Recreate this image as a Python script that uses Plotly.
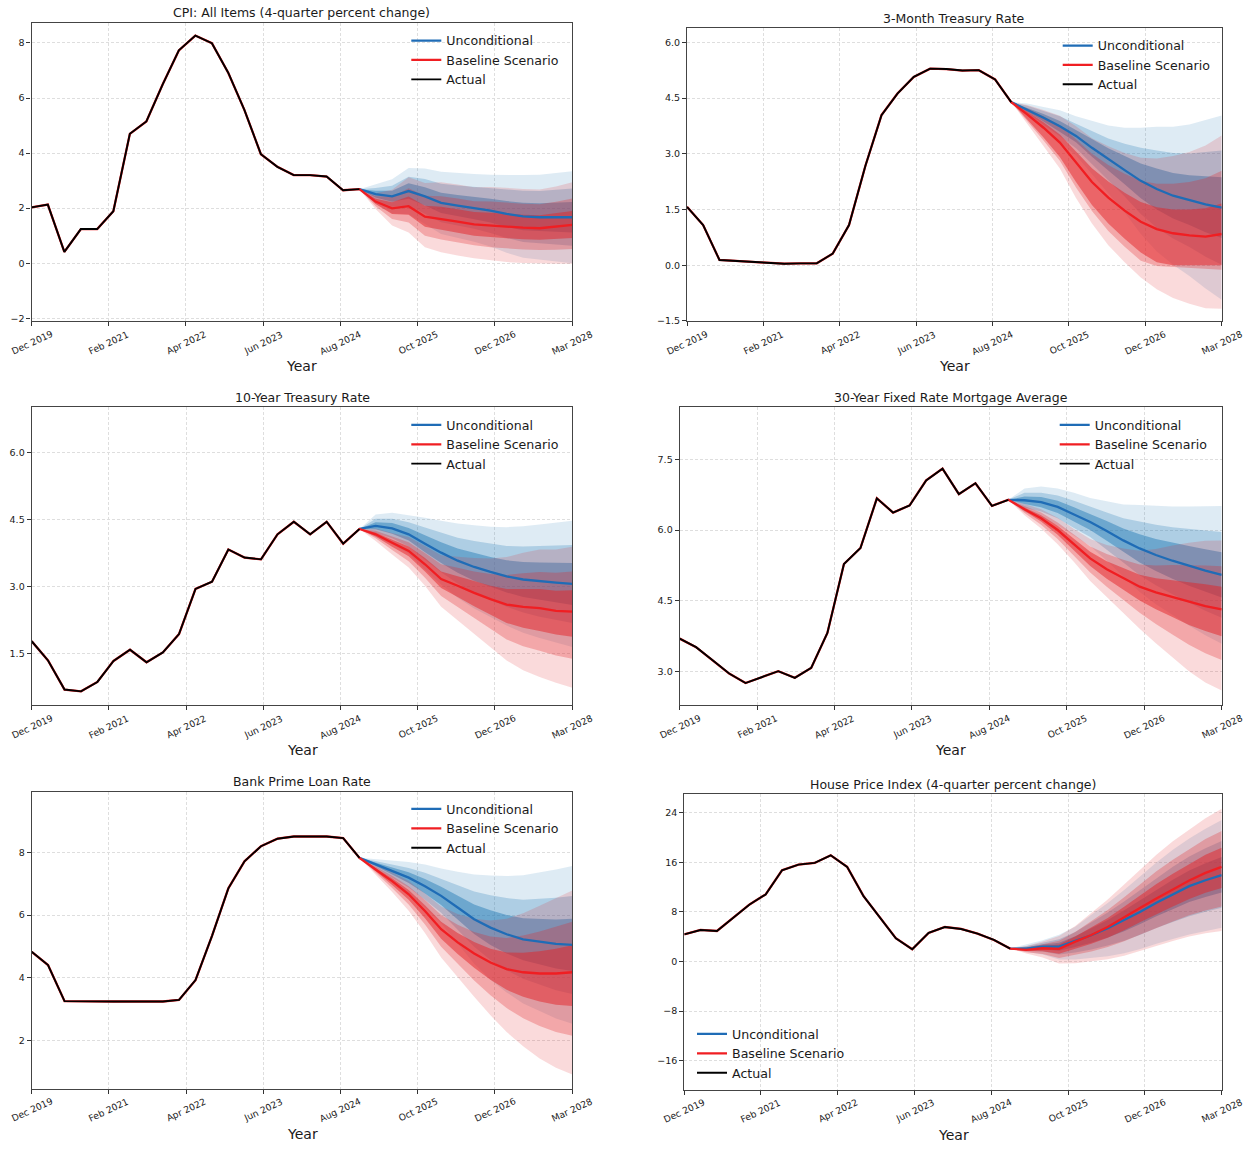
import plotly.graph_objects as go
import pandas as pd

# ---------------- data ----------------
quarters = pd.date_range("2019-12-01", periods=34, freq="3MS")
hist_dates = list(quarters[:21])
fc_dates = list(quarters[20:])

tick_dates = ["2019-12-01", "2021-02-03", "2022-04-09", "2023-06-14",
              "2024-08-17", "2025-10-22", "2026-12-26", "2028-03-01"]
tick_labels = ["Dec 2019", "Feb 2021", "Apr 2022", "Jun 2023",
               "Aug 2024", "Oct 2025", "Dec 2026", "Mar 2028"]

titles = ["CPI: All Items (4-quarter percent change)", "3-Month Treasury Rate",
          "10-Year Treasury Rate", "30-Year Fixed Rate Mortgage Average",
          "Bank Prime Loan Rate", "House Price Index (4-quarter percent change)"]
series_names = ["Unconditional", "Baseline Scenario", "Actual"]

# CPI
cpi_actual = [2.03, 2.13, 0.41, 1.24, 1.24, 1.89, 4.70, 5.15, 6.50, 7.73, 8.27, 7.99, 6.92, 5.57, 3.96, 3.50, 3.20, 3.20, 3.15, 2.65, 2.69]
cpi_unc = [2.69, 2.51, 2.43, 2.62, 2.43, 2.19, 2.09, 2.01, 1.91, 1.79, 1.70, 1.67, 1.67, 1.67]
cpi_unc_out_hi = [2.69, 2.86, 3.05, 3.46, 3.44, 3.32, 3.27, 3.24, 3.21, 3.20, 3.20, 3.21, 3.27, 3.34]
cpi_unc_out_lo = [2.69, 2.16, 1.81, 1.78, 1.42, 1.06, 0.91, 0.78, 0.61, 0.38, 0.20, 0.13, 0.07, 0.00]
cpi_unc_mid_hi = [2.69, 2.73, 2.81, 3.14, 3.06, 2.89, 2.82, 2.77, 2.72, 2.66, 2.63, 2.62, 2.66, 2.71]
cpi_unc_mid_lo = [2.69, 2.29, 2.05, 2.10, 1.80, 1.49, 1.36, 1.25, 1.10, 0.92, 0.77, 0.72, 0.68, 0.63]
cpi_unc_in_hi = [2.69, 2.63, 2.63, 2.90, 2.76, 2.56, 2.48, 2.42, 2.34, 2.26, 2.20, 2.18, 2.20, 2.22]
cpi_unc_in_lo = [2.69, 2.39, 2.23, 2.34, 2.10, 1.82, 1.70, 1.60, 1.48, 1.32, 1.20, 1.16, 1.14, 1.12]
cpi_base = [2.69, 2.24, 1.99, 2.07, 1.69, 1.61, 1.51, 1.41, 1.37, 1.32, 1.29, 1.27, 1.32, 1.39]
cpi_base_out_hi = [2.69, 2.54, 2.67, 3.12, 2.91, 2.94, 2.86, 2.76, 2.77, 2.73, 2.70, 2.68, 2.79, 2.94]
cpi_base_out_lo = [2.69, 1.97, 1.37, 1.12, 0.58, 0.40, 0.28, 0.18, 0.10, 0.04, 0.01, -0.01, -0.02, -0.02]
cpi_base_mid_hi = [2.69, 2.43, 2.41, 2.72, 2.45, 2.43, 2.35, 2.25, 2.24, 2.19, 2.16, 2.14, 2.23, 2.35]
cpi_base_mid_lo = [2.69, 2.07, 1.61, 1.48, 1.00, 0.86, 0.75, 0.65, 0.58, 0.53, 0.50, 0.48, 0.49, 0.52]
cpi_base_in_hi = [2.69, 2.34, 2.21, 2.42, 2.09, 2.05, 1.96, 1.86, 1.83, 1.79, 1.76, 1.74, 1.81, 1.90]
cpi_base_in_lo = [2.69, 2.15, 1.79, 1.76, 1.32, 1.21, 1.10, 1.00, 0.95, 0.90, 0.87, 0.85, 0.88, 0.92]

# 3-Month Treasury
tb3_actual = [1.57, 1.08, 0.14, 0.11, 0.08, 0.05, 0.04, 0.05, 0.05, 0.31, 1.08, 2.67, 4.04, 4.62, 5.07, 5.29, 5.28, 5.24, 5.25, 5.00, 4.39]
tb3_unc = [4.39, 4.19, 3.97, 3.74, 3.48, 3.16, 2.85, 2.56, 2.27, 2.05, 1.87, 1.75, 1.64, 1.55]
tb3_unc_out_hi = [4.39, 4.35, 4.26, 4.17, 4.01, 3.88, 3.76, 3.70, 3.70, 3.73, 3.73, 3.79, 3.91, 4.03]
tb3_unc_out_lo = [4.39, 4.03, 3.68, 3.31, 2.95, 2.44, 1.94, 1.42, 0.84, 0.37, 0.01, -0.29, -0.63, -0.93]
tb3_unc_mid_hi = [4.39, 4.29, 4.15, 4.01, 3.81, 3.61, 3.41, 3.27, 3.16, 3.09, 3.02, 3.01, 3.05, 3.09]
tb3_unc_mid_lo = [4.39, 4.09, 3.79, 3.47, 3.15, 2.71, 2.29, 1.85, 1.38, 1.01, 0.72, 0.49, 0.23, 0.01]
tb3_unc_in_hi = [4.39, 4.24, 4.07, 3.88, 3.65, 3.40, 3.15, 2.94, 2.74, 2.60, 2.48, 2.42, 2.39, 2.37]
tb3_unc_in_lo = [4.39, 4.14, 3.87, 3.60, 3.31, 2.92, 2.55, 2.18, 1.80, 1.50, 1.26, 1.08, 0.89, 0.73]
tb3_base = [4.39, 4.06, 3.70, 3.30, 2.76, 2.24, 1.82, 1.47, 1.17, 0.97, 0.86, 0.80, 0.77, 0.84]
tb3_base_out_hi = [4.39, 4.31, 4.18, 4.02, 3.74, 3.42, 3.20, 3.02, 2.89, 2.87, 2.94, 3.05, 3.22, 3.49]
tb3_base_out_lo = [4.39, 3.81, 3.22, 2.60, 1.81, 1.12, 0.54, 0.08, -0.33, -0.65, -0.88, -1.04, -1.16, -1.17]
tb3_base_mid_hi = [4.39, 4.22, 4.01, 3.76, 3.39, 3.00, 2.70, 2.46, 2.27, 2.19, 2.19, 2.24, 2.34, 2.54]
tb3_base_mid_lo = [4.39, 3.88, 3.36, 2.81, 2.09, 1.46, 0.92, 0.50, 0.12, -0.02, -0.04, -0.06, -0.10, -0.12]
tb3_base_in_hi = [4.39, 4.14, 3.85, 3.52, 3.06, 2.61, 2.25, 1.95, 1.70, 1.56, 1.50, 1.50, 1.53, 1.66]
tb3_base_in_lo = [4.39, 3.92, 3.44, 2.91, 2.24, 1.62, 1.12, 0.71, 0.34, 0.08, 0.00, 0.00, 0.00, 0.00]

# 10-Year Treasury
tn10_actual = [1.78, 1.35, 0.70, 0.66, 0.87, 1.34, 1.59, 1.31, 1.53, 1.94, 2.95, 3.11, 3.83, 3.65, 3.61, 4.17, 4.45, 4.17, 4.45, 3.96, 4.29]
tn10_unc = [4.29, 4.36, 4.30, 4.17, 3.96, 3.76, 3.58, 3.44, 3.33, 3.23, 3.16, 3.12, 3.09, 3.06]
tn10_unc_out_hi = [4.29, 4.61, 4.65, 4.60, 4.54, 4.47, 4.41, 4.37, 4.34, 4.33, 4.35, 4.39, 4.43, 4.47]
tn10_unc_out_lo = [4.29, 4.11, 3.95, 3.74, 3.38, 3.05, 2.75, 2.51, 2.32, 2.13, 1.97, 1.85, 1.75, 1.65]
tn10_unc_mid_hi = [4.29, 4.52, 4.52, 4.44, 4.32, 4.20, 4.09, 4.02, 3.96, 3.91, 3.90, 3.91, 3.92, 3.93]
tn10_unc_mid_lo = [4.29, 4.20, 4.08, 3.90, 3.60, 3.32, 3.07, 2.86, 2.70, 2.55, 2.42, 2.33, 2.26, 2.19]
tn10_unc_in_hi = [4.29, 4.44, 4.42, 4.31, 4.15, 3.99, 3.85, 3.75, 3.66, 3.59, 3.55, 3.54, 3.53, 3.53]
tn10_unc_in_lo = [4.29, 4.28, 4.18, 4.03, 3.77, 3.53, 3.31, 3.13, 3.00, 2.87, 2.77, 2.70, 2.65, 2.59]
tn10_base = [4.29, 4.17, 3.98, 3.80, 3.50, 3.17, 3.02, 2.86, 2.72, 2.60, 2.55, 2.52, 2.46, 2.44]
tn10_base_out_hi = [4.29, 4.30, 4.20, 4.11, 3.91, 3.70, 3.67, 3.64, 3.63, 3.66, 3.76, 3.83, 3.83, 3.89]
tn10_base_out_lo = [4.29, 4.02, 3.72, 3.43, 3.02, 2.55, 2.26, 1.94, 1.65, 1.35, 1.13, 0.98, 0.85, 0.74]
tn10_base_mid_hi = [4.29, 4.25, 4.12, 3.99, 3.75, 3.50, 3.42, 3.34, 3.28, 3.26, 3.30, 3.33, 3.31, 3.34]
tn10_base_mid_lo = [4.29, 4.08, 3.82, 3.57, 3.20, 2.79, 2.55, 2.29, 2.06, 1.82, 1.67, 1.57, 1.46, 1.39]
tn10_base_in_hi = [4.29, 4.21, 4.05, 3.90, 3.64, 3.34, 3.23, 3.12, 3.02, 2.95, 2.95, 2.95, 2.91, 2.92]
tn10_base_in_lo = [4.29, 4.12, 3.89, 3.68, 3.34, 2.97, 2.77, 2.56, 2.37, 2.19, 2.08, 2.01, 1.93, 1.88]

# 30-Year Mortgage
mort_actual = [3.70, 3.52, 3.24, 2.96, 2.76, 2.89, 3.01, 2.87, 3.08, 3.82, 5.28, 5.62, 6.67, 6.37, 6.52, 7.05, 7.30, 6.76, 6.99, 6.51, 6.64]
mort_unc = [6.64, 6.63, 6.59, 6.49, 6.33, 6.17, 5.98, 5.78, 5.61, 5.47, 5.35, 5.24, 5.14, 5.05]
mort_unc_out_hi = [6.64, 6.88, 6.92, 6.88, 6.79, 6.68, 6.61, 6.54, 6.53, 6.51, 6.50, 6.50, 6.51, 6.51]
mort_unc_out_lo = [6.64, 6.38, 6.26, 6.10, 5.87, 5.66, 5.35, 5.02, 4.69, 4.43, 4.20, 3.98, 3.77, 3.59]
mort_unc_mid_hi = [6.64, 6.79, 6.79, 6.73, 6.62, 6.49, 6.37, 6.25, 6.18, 6.11, 6.06, 6.02, 5.99, 5.96]
mort_unc_mid_lo = [6.64, 6.47, 6.39, 6.25, 6.04, 5.85, 5.59, 5.31, 5.04, 4.83, 4.64, 4.46, 4.29, 4.14]
mort_unc_in_hi = [6.64, 6.71, 6.70, 6.62, 6.48, 6.34, 6.19, 6.03, 5.91, 5.81, 5.73, 5.66, 5.59, 5.53]
mort_unc_in_lo = [6.64, 6.55, 6.48, 6.36, 6.18, 6.00, 5.77, 5.53, 5.31, 5.13, 4.97, 4.82, 4.69, 4.57]
mort_base = [6.64, 6.44, 6.25, 6.00, 5.70, 5.40, 5.17, 4.98, 4.80, 4.68, 4.58, 4.48, 4.39, 4.32]
mort_base_out_hi = [6.64, 6.55, 6.44, 6.26, 6.02, 5.81, 5.68, 5.61, 5.56, 5.60, 5.67, 5.73, 5.77, 5.78]
mort_base_out_lo = [6.64, 6.31, 6.03, 5.70, 5.32, 4.92, 4.57, 4.24, 3.91, 3.60, 3.30, 3.01, 2.77, 2.60]
mort_base_mid_hi = [6.64, 6.51, 6.37, 6.16, 5.90, 5.65, 5.49, 5.37, 5.27, 5.25, 5.26, 5.26, 5.25, 5.23]
mort_base_mid_lo = [6.64, 6.36, 6.11, 5.81, 5.46, 5.10, 4.80, 4.52, 4.25, 4.01, 3.79, 3.57, 3.39, 3.25]
mort_base_in_hi = [6.64, 6.48, 6.31, 6.09, 5.81, 5.54, 5.34, 5.19, 5.05, 4.98, 4.94, 4.89, 4.85, 4.80]
mort_base_in_lo = [6.64, 6.40, 6.18, 5.90, 5.57, 5.24, 4.97, 4.74, 4.51, 4.32, 4.16, 3.99, 3.86, 3.75]

# Bank Prime Loan Rate
prime_actual = [4.83, 4.41, 3.26, 3.25, 3.25, 3.25, 3.25, 3.25, 3.25, 3.30, 3.93, 5.34, 6.85, 7.71, 8.19, 8.43, 8.50, 8.50, 8.50, 8.45, 7.82]
prime_unc = [7.82, 7.61, 7.40, 7.19, 6.92, 6.61, 6.24, 5.87, 5.60, 5.39, 5.23, 5.15, 5.08, 5.05]
prime_unc_out_hi = [7.82, 7.77, 7.74, 7.69, 7.61, 7.48, 7.38, 7.29, 7.26, 7.24, 7.27, 7.35, 7.45, 7.56]
prime_unc_out_lo = [7.82, 7.45, 7.06, 6.69, 6.23, 5.74, 5.10, 4.45, 3.94, 3.54, 3.19, 2.95, 2.71, 2.54]
prime_unc_mid_hi = [7.82, 7.71, 7.61, 7.50, 7.35, 7.15, 6.95, 6.75, 6.63, 6.54, 6.49, 6.51, 6.55, 6.61]
prime_unc_mid_lo = [7.82, 7.51, 7.19, 6.88, 6.49, 6.07, 5.53, 4.99, 4.57, 4.24, 3.97, 3.79, 3.61, 3.49]
prime_unc_in_hi = [7.82, 7.66, 7.51, 7.36, 7.15, 6.90, 6.62, 6.34, 6.15, 6.00, 5.90, 5.88, 5.86, 5.88]
prime_unc_in_lo = [7.82, 7.56, 7.29, 7.02, 6.69, 6.32, 5.86, 5.40, 5.05, 4.78, 4.56, 4.42, 4.30, 4.22]
prime_base = [7.82, 7.45, 7.08, 6.66, 6.13, 5.55, 5.13, 4.78, 4.49, 4.28, 4.18, 4.14, 4.14, 4.18]
prime_base_out_hi = [7.82, 7.59, 7.36, 7.08, 6.69, 6.27, 6.03, 5.88, 5.83, 5.88, 6.06, 6.30, 6.54, 6.78]
prime_base_out_lo = [7.82, 7.27, 6.73, 6.14, 5.43, 4.65, 4.01, 3.40, 2.81, 2.28, 1.83, 1.44, 1.14, 0.93]
prime_base_mid_hi = [7.82, 7.54, 7.25, 6.92, 6.48, 6.00, 5.69, 5.46, 5.32, 5.27, 5.35, 5.48, 5.63, 5.79]
prime_base_mid_lo = [7.82, 7.34, 6.86, 6.34, 5.70, 4.99, 4.44, 3.92, 3.45, 3.04, 2.72, 2.47, 2.28, 2.16]
prime_base_in_hi = [7.82, 7.50, 7.17, 6.80, 6.31, 5.79, 5.43, 5.14, 4.93, 4.81, 4.80, 4.85, 4.93, 5.04]
prime_base_in_lo = [7.82, 7.39, 6.96, 6.49, 5.90, 5.25, 4.76, 4.32, 3.94, 3.62, 3.40, 3.25, 3.15, 3.11]

# House Price Index
hpi_actual = [4.39, 5.09, 4.93, 7.07, 9.21, 10.82, 14.73, 15.64, 15.91, 17.14, 15.27, 10.55, 7.07, 3.75, 1.98, 4.61, 5.57, 5.25, 4.50, 3.48, 2.09]
hpi_unc = [2.09, 2.09, 2.41, 2.41, 3.32, 4.23, 5.36, 6.64, 8.03, 9.48, 10.82, 12.16, 13.12, 13.93]
hpi_unc_out_hi = [2.09, 2.69, 3.41, 4.31, 5.62, 7.53, 9.46, 11.54, 13.73, 15.98, 18.02, 19.86, 21.42, 22.83]
hpi_unc_out_lo = [2.09, 1.59, 1.11, 0.31, 0.32, 0.53, 0.86, 1.34, 2.03, 2.88, 3.62, 4.36, 4.92, 5.43]
hpi_unc_mid_hi = [2.09, 2.46, 3.03, 3.59, 4.75, 6.28, 7.90, 9.68, 11.56, 13.51, 15.28, 16.93, 18.27, 19.45]
hpi_unc_mid_lo = [2.09, 1.78, 1.60, 1.11, 1.46, 1.94, 2.57, 3.35, 4.31, 5.39, 6.36, 7.32, 8.04, 8.66]
hpi_unc_in_hi = [2.09, 2.29, 2.74, 3.04, 4.08, 5.32, 6.71, 8.26, 9.91, 11.63, 13.20, 14.70, 15.86, 16.87]
hpi_unc_in_lo = [2.09, 1.92, 1.98, 1.72, 2.33, 3.01, 3.87, 4.89, 6.05, 7.30, 8.44, 9.59, 10.41, 11.12]
hpi_base = [2.09, 1.87, 2.14, 2.04, 3.21, 4.28, 5.57, 7.07, 8.68, 10.18, 11.62, 13.07, 14.30, 15.27]
hpi_base_out_hi = [2.09, 2.52, 3.21, 4.12, 5.73, 7.87, 10.02, 12.43, 14.84, 17.25, 19.39, 21.26, 23.14, 24.64]
hpi_base_out_lo = [2.09, 1.29, 0.64, -0.32, -0.27, 0.00, 0.37, 0.91, 1.71, 2.52, 3.32, 4.02, 4.55, 4.93]
hpi_base_mid_hi = [2.09, 2.27, 2.80, 3.33, 4.77, 6.51, 8.33, 10.39, 12.50, 14.56, 16.44, 18.15, 19.78, 21.08]
hpi_base_mid_lo = [2.09, 1.51, 1.21, 0.58, 1.05, 1.63, 2.35, 3.25, 4.36, 5.43, 6.47, 7.46, 8.25, 8.86]
hpi_base_in_hi = [2.09, 2.08, 2.49, 2.73, 4.04, 5.46, 7.04, 8.84, 10.71, 12.51, 14.18, 15.77, 17.22, 18.36]
hpi_base_in_lo = [2.09, 1.68, 1.64, 1.26, 2.06, 2.87, 3.85, 5.04, 6.38, 7.65, 8.88, 10.08, 11.08, 11.86]

# y-axis settings per panel
y_ranges = [[-2.11, 8.74], [-1.51, 6.38], [0.35, 7.01], [2.29, 8.60], [0.48, 9.93], [-20.67, 27.0]]
y_ticks = [[-2, 0, 2, 4, 6, 8], [-1.5, 0, 1.5, 3, 4.5, 6], [1.5, 3, 4.5, 6],
           [3, 4.5, 6, 7.5], [2, 4, 6, 8], [-16, -8, 0, 8, 16, 24]]
y_formats = ["d", ".1f", ".1f", ".1f", "d", "d"]

# ---------------- styling / layout ----------------
W, H = 1251, 1151
FONT = "DejaVu Sans"
TXT = "#1a1a1a"
GRID = "#dedede"
BLUE_LINE = "rgb(31,108,182)"
RED_LINE = "rgb(240,30,34)"
BLUE_FILLS = ["rgba(31,119,180,0.15)", "rgba(31,119,180,0.25)", "rgba(31,119,180,0.45)"]
RED_FILLS = ["rgba(228,35,40,0.17)", "rgba(228,35,40,0.28)", "rgba(228,35,40,0.50)"]

# plot area boxes in pixels (left, top, right, bottom)
boxes = [(31.5, 22.7, 572.3, 322.7), (687.0, 28.3, 1221.7, 322.7),
         (31.7, 409.0, 572.3, 708.3), (679.7, 409.0, 1221.7, 708.3),
         (31.7, 795.0, 572.3, 1093.3), (684.3, 797.7, 1221.7, 1094.3)]
# legend: (x of line symbol start, y of first row centre)
legend_pos = [(409.3, 40.0), (1060.7, 45.0), (409.3, 426.0),
              (1057.7, 426.0), (409.3, 811.7), (695.0, 1037.7)]

panels = [
    dict(actual=cpi_actual, unc=cpi_unc, base=cpi_base,
         unc_bands=[(cpi_unc_out_lo, cpi_unc_out_hi), (cpi_unc_mid_lo, cpi_unc_mid_hi), (cpi_unc_in_lo, cpi_unc_in_hi)],
         base_bands=[(cpi_base_out_lo, cpi_base_out_hi), (cpi_base_mid_lo, cpi_base_mid_hi), (cpi_base_in_lo, cpi_base_in_hi)]),
    dict(actual=tb3_actual, unc=tb3_unc, base=tb3_base,
         unc_bands=[(tb3_unc_out_lo, tb3_unc_out_hi), (tb3_unc_mid_lo, tb3_unc_mid_hi), (tb3_unc_in_lo, tb3_unc_in_hi)],
         base_bands=[(tb3_base_out_lo, tb3_base_out_hi), (tb3_base_mid_lo, tb3_base_mid_hi), (tb3_base_in_lo, tb3_base_in_hi)]),
    dict(actual=tn10_actual, unc=tn10_unc, base=tn10_base,
         unc_bands=[(tn10_unc_out_lo, tn10_unc_out_hi), (tn10_unc_mid_lo, tn10_unc_mid_hi), (tn10_unc_in_lo, tn10_unc_in_hi)],
         base_bands=[(tn10_base_out_lo, tn10_base_out_hi), (tn10_base_mid_lo, tn10_base_mid_hi), (tn10_base_in_lo, tn10_base_in_hi)]),
    dict(actual=mort_actual, unc=mort_unc, base=mort_base,
         unc_bands=[(mort_unc_out_lo, mort_unc_out_hi), (mort_unc_mid_lo, mort_unc_mid_hi), (mort_unc_in_lo, mort_unc_in_hi)],
         base_bands=[(mort_base_out_lo, mort_base_out_hi), (mort_base_mid_lo, mort_base_mid_hi), (mort_base_in_lo, mort_base_in_hi)]),
    dict(actual=prime_actual, unc=prime_unc, base=prime_base,
         unc_bands=[(prime_unc_out_lo, prime_unc_out_hi), (prime_unc_mid_lo, prime_unc_mid_hi), (prime_unc_in_lo, prime_unc_in_hi)],
         base_bands=[(prime_base_out_lo, prime_base_out_hi), (prime_base_mid_lo, prime_base_mid_hi), (prime_base_in_lo, prime_base_in_hi)]),
    dict(actual=hpi_actual, unc=hpi_unc, base=hpi_base,
         unc_bands=[(hpi_unc_out_lo, hpi_unc_out_hi), (hpi_unc_mid_lo, hpi_unc_mid_hi), (hpi_unc_in_lo, hpi_unc_in_hi)],
         base_bands=[(hpi_base_out_lo, hpi_base_out_hi), (hpi_base_mid_lo, hpi_base_mid_hi), (hpi_base_in_lo, hpi_base_in_hi)]),
]

fig = go.Figure()
annotations = []
layout = dict(width=W, height=H, autosize=False,
              margin=dict(l=0, r=0, t=0, b=0),
              paper_bgcolor="white", plot_bgcolor="white",
              font=dict(family=FONT, color=TXT), showlegend=True,
              hovermode=False)

band_x = fc_dates + fc_dates[::-1]

for i, p in enumerate(panels):
    n = i + 1
    xa = "x" if n == 1 else f"x{n}"
    ya = "y" if n == 1 else f"y{n}"
    leg = "legend" if n == 1 else f"legend{n}"
    l, t, r, b = boxes[i]

    # fan bands: unconditional then baseline
    for (lo, hi), col in zip(p["unc_bands"], BLUE_FILLS):
        fig.add_trace(go.Scatter(x=band_x, y=list(hi) + list(lo)[::-1], fill="toself",
                                 fillcolor=col, line=dict(width=0), mode="lines",
                                 hoverinfo="skip", showlegend=False, xaxis=xa, yaxis=ya))
    for (lo, hi), col in zip(p["base_bands"], RED_FILLS):
        fig.add_trace(go.Scatter(x=band_x, y=list(hi) + list(lo)[::-1], fill="toself",
                                 fillcolor=col, line=dict(width=0), mode="lines",
                                 hoverinfo="skip", showlegend=False, xaxis=xa, yaxis=ya))
    # lines
    fig.add_trace(go.Scatter(x=fc_dates, y=p["unc"], mode="lines", name=series_names[0],
                             line=dict(color=BLUE_LINE, width=2.3), xaxis=xa, yaxis=ya, legend=leg))
    fig.add_trace(go.Scatter(x=hist_dates + fc_dates[1:], y=list(p["actual"]) + list(p["base"])[1:],
                             mode="lines", name=series_names[1],
                             line=dict(color=RED_LINE, width=2.3), xaxis=xa, yaxis=ya, legend=leg))
    fig.add_trace(go.Scatter(x=hist_dates, y=p["actual"], mode="lines", name=series_names[2],
                             line=dict(color="black", width=1.9), xaxis=xa, yaxis=ya, legend=leg))

    xkey = "xaxis" if n == 1 else f"xaxis{n}"
    ykey = "yaxis" if n == 1 else f"yaxis{n}"
    layout[xkey] = dict(domain=[l / W, r / W], anchor=ya, type="date",
                        range=[quarters[0], quarters[-1]],
                        tickvals=tick_dates, showticklabels=False,
                        ticks="outside", ticklen=4, tickwidth=1, tickcolor="#333",
                        showgrid=True, gridcolor=GRID, griddash="3px,2px", gridwidth=0.8,
                        showline=True, linecolor="#444", linewidth=1.2, mirror=True,
                        zeroline=False)
    layout[ykey] = dict(domain=[1 - b / H, 1 - t / H], anchor=xa,
                        range=y_ranges[i], tickvals=y_ticks[i], tickformat=y_formats[i],
                        ticks="outside", ticklen=4, tickwidth=1, tickcolor="#333",
                        tickfont=dict(size=9.5, family=FONT, color=TXT),
                        showgrid=True, gridcolor=GRID, griddash="3px,2px", gridwidth=0.8,
                        showline=True, linecolor="#444", linewidth=1.2, mirror=True,
                        zeroline=False)

    lx, ly = legend_pos[i]
    layout[leg] = dict(x=(lx - 3) / W, y=1 - (ly - 14) / H, xanchor="left", yanchor="top",
                       bgcolor="rgba(0,0,0,0)", borderwidth=0,
                       font=dict(size=12.6, family=FONT, color=TXT),
                       tracegroupgap=0)

    cx = (l + r) / 2 / W
    yd = f"{ya} domain"
    # title
    annotations.append(dict(text=titles[i], x=cx, xref="paper", y=1, yref=yd,
                            xanchor="center", yanchor="bottom", yshift=0.5, showarrow=False,
                            font=dict(size=12.5, family=FONT, color=TXT)))
    # x-axis title
    annotations.append(dict(text="Year", x=cx, xref="paper", y=0, yref=yd,
                            xanchor="center", yanchor="middle", yshift=-45, showarrow=False,
                            font=dict(size=14, family=FONT, color=TXT)))
    # rotated tick labels
    for tv, tl in zip(tick_dates, tick_labels):
        annotations.append(dict(text=tl, x=tv, xref=xa, y=0, yref=yd,
                                xanchor="center", yanchor="middle", yshift=-21,
                                textangle=-25, showarrow=False,
                                font=dict(size=9.2, family=FONT, color=TXT)))

layout["annotations"] = annotations
fig.update_layout(**layout)
fig.write_html("out.html")
